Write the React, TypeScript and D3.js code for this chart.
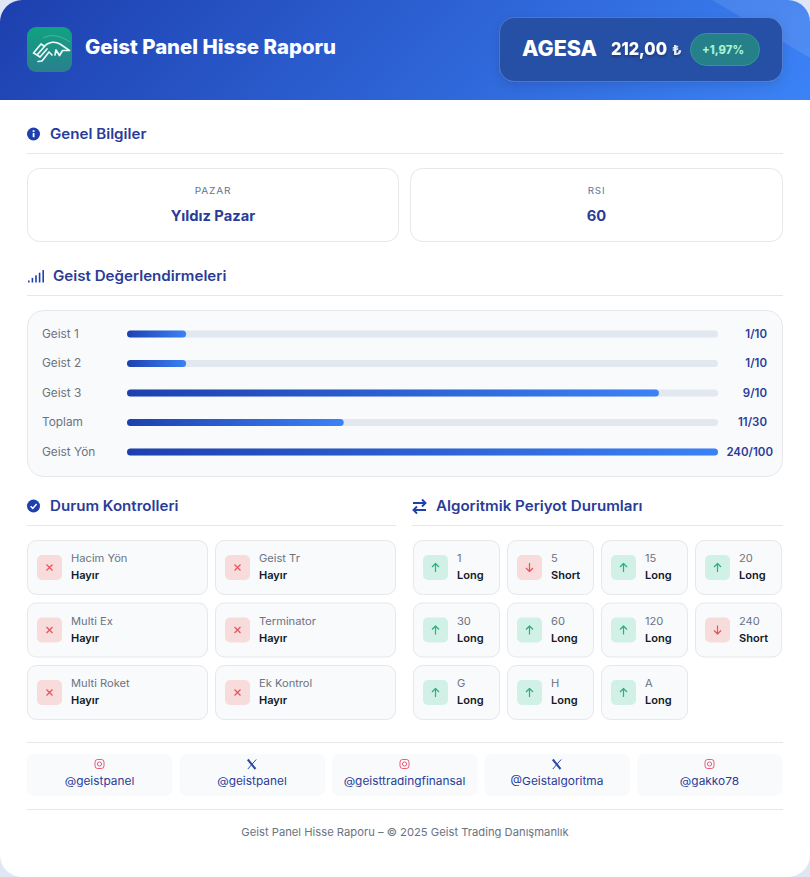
import React from 'react';
import * as d3 from 'd3';

const W = 810;
const H = 877;
const FONT = "Inter, 'Noto Sans', sans-serif";

const NAVY = '#2a3c98';
const DARK = '#1f2937';
const GRAY = '#6b7280';
const BORDER = '#e5e7eb';
const PANEL = '#f8fafc';

const title = 'Geist Panel Hisse Raporu';
const ticker = 'AGESA';
const price = '212,00';
const change = '+1,97%';

const infoLabels = ['PAZAR', 'RSI'];
const infoValues = ['Yıldız Pazar', '60'];

const scoreLabels = ['Geist 1', 'Geist 2', 'Geist 3', 'Toplam', 'Geist Yön'];
const scoreValues = [1, 1, 9, 11, 240];
const scoreMax = [10, 10, 10, 30, 100];

const statusLabels = ['Hacim Yön', 'Geist Tr', 'Multi Ex', 'Terminator', 'Multi Roket', 'Ek Kontrol'];
const statusValues = ['Hayır', 'Hayır', 'Hayır', 'Hayır', 'Hayır', 'Hayır'];

const periodLabels = ['1', '5', '15', '20', '30', '60', '120', '240', 'G', 'H', 'A'];
const periodValues = ['Long', 'Short', 'Long', 'Long', 'Long', 'Long', 'Long', 'Short', 'Long', 'Long', 'Long'];

const socialHandles = ['@geistpanel', '@geistpanel', '@geisttradingfinansal', '@Geistalgoritma', '@gakko78'];
const socialKinds = ['ig', 'x', 'ig', 'x', 'ig'];

const footer = 'Geist Panel Hisse Raporu – © 2025 Geist Trading Danışmanlık';

// Scales for the bars and the card grids
const barX = d3.scaleLinear().domain([0, 1]).range([127, 718]).clamp(true);
const rowY = d3.scalePoint<string>().domain(scoreLabels).range([334, 452]);
const statusCol = d3.scaleLinear().domain([0, 1]).range([27, 215]);
const periodCol = d3.scaleLinear().domain([0, 3]).range([413, 695]);
const gridRow = d3.scaleLinear().domain([0, 2]).range([540, 665]);
const socialX = d3.scaleLinear().domain([0, 4]).range([27, 637]);

const ctx = document.createElement('canvas').getContext('2d') as CanvasRenderingContext2D;

// The original font is wider than Inter, so text gets stretched a little
const Txt: React.FC<any> = ({ x, y, size, weight = 400, fill = DARK, anchor = 'start', stretch = 1, fit, children, ...rest }) => {
  ctx.font = `${weight} ${size}px ${FONT}`;
  const len = fit ?? ctx.measureText(String(children)).width * stretch;
  return (
    <text x={x} y={y} fontSize={size} fontWeight={weight} fill={fill} textAnchor={anchor} fontFamily={FONT}
      textLength={len} lengthAdjust="spacingAndGlyphs" {...rest}>
      {children}
    </text>
  );
};

const SectionHead: React.FC<{ x: number; x2: number; y: number; tx: number; label: string; children: React.ReactNode }> = ({ x, x2, y, tx, label, children }) => (
  <g>
    {children}
    <Txt x={tx} y={y + 5} size={14} weight={600} fill={NAVY} stretch={1.08}>{label}</Txt>
    <line x1={x} x2={x2} y1={y + 19.5} y2={y + 19.5} stroke={BORDER} />
  </g>
);

const StateCard: React.FC<{ x: number; y: number; w: number; label: string; value: string; kind: 'x' | 'up' | 'down' }> = ({ x, y, w, label, value, kind }) => {
  const good = kind === 'up';
  const col = good ? '#2bb07f' : '#e5545a';
  const bx = x + 10;
  const by = y + 15;
  const cx = bx + 12.5;
  const cy = by + 12.5;
  return (
    <g>
      <rect x={x + 0.5} y={y + 0.5} width={w - 1} height={54} rx={9} fill={PANEL} stroke={BORDER} />
      <rect x={bx} y={by} width={25} height={25} rx={5} fill={good ? '#d1f0e6' : '#f8dcdc'} />
      <g stroke={col} strokeWidth={1.2} fill="none" strokeLinejoin="round">
        {kind === 'x' && <path d={`M${cx - 3} ${cy - 3}L${cx + 3} ${cy + 3}M${cx + 3} ${cy - 3}L${cx - 3} ${cy + 3}`} />}
        {kind === 'up' && <path d={`M${cx} ${cy + 4.5}V${cy - 4}M${cx - 3.5} ${cy - 0.5}L${cx} ${cy - 4}L${cx + 3.5} ${cy - 0.5}`} />}
        {kind === 'down' && <path d={`M${cx} ${cy - 4.5}V${cy + 4}M${cx - 3.5} ${cy + 0.5}L${cx} ${cy + 4}L${cx + 3.5} ${cy + 0.5}`} />}
      </g>
      <Txt x={x + 44} y={y + 22} size={10.5} fill={GRAY} stretch={1.06}>{label}</Txt>
      <Txt x={x + 44} y={y + 39} size={10.5} weight={600} fill="#111827" stretch={1.05}>{value}</Txt>
    </g>
  );
};

export default function App() {
  return (
    <svg width={W} height={H} viewBox={`0 0 ${W} ${H}`} style={{ position: 'absolute', left: 0, top: 0, display: 'block' }}>
      <defs>
        <linearGradient id="head" gradientUnits="userSpaceOnUse" x1="170" y1="-170" x2="640" y2="270">
          <stop offset="0" stopColor="#1e40af" />
          <stop offset="1" stopColor="#3b82f6" />
        </linearGradient>
        <linearGradient id="bar" x1="0" x2="1" y1="0" y2="0">
          <stop offset="0" stopColor="#1e40af" />
          <stop offset="1" stopColor="#3b82f6" />
        </linearGradient>
        <linearGradient id="logo" x1="0" x2="0" y1="0" y2="1">
          <stop offset="0" stopColor="#10a37f" />
          <stop offset="1" stopColor="#2a7f8f" />
        </linearGradient>
        <clipPath id="page"><rect width={W} height={H} rx={22} /></clipPath>
        <filter id="soft" x="-20%" y="-30%" width="140%" height="170%">
          <feDropShadow dx="0" dy="4" stdDeviation="6" floodColor="#000" floodOpacity="0.12" />
        </filter>
        <filter id="txtShadow" x="-10%" y="-30%" width="120%" height="170%">
          <feDropShadow dx="0" dy="1.5" stdDeviation="1.5" floodColor="#000" floodOpacity="0.35" />
        </filter>
      </defs>

      <rect width={W} height={H} fill="#dfe7f5" />
      <g clipPath="url(#page)">
        <rect width={W} height={H} fill="#fff" />
        <rect width={W} height={100} fill="url(#head)" />
        <path d="M712 0H810V58Z" fill="#fff" opacity={0.1} />
      </g>

      {/* header */}
      <rect x={27} y={27} width={45} height={45} rx={9} fill="url(#logo)" />
      <path d="M43 38C50 34 60 35 70 42" fill="none" stroke="#fff" strokeOpacity={0.3} strokeWidth={0.8} />
      <g fill="none" stroke="#eef7f5" strokeWidth={1.7} strokeLinecap="round" strokeLinejoin="round">
        <path d="M37 55L33.500 53L41 44L44.500 46.500L37 55L40 57L47 49" />
        <path d="M44.500 46C49 42 55 41 60 44L69.500 50.500L62.500 50.500L59.500 55.500L56 50L55 55" />
        <path d="M38 61.500L42 61L49 52L52 55" />
      </g>
      <Txt x={85} y={54} size={20} weight={800} fill="#fff" fit={251}>{title}</Txt>

      <rect x={499.5} y={17.5} width={283} height={64} rx={15} fill="#2650a6" stroke="#fff" strokeOpacity={0.16} filter="url(#soft)" />
      <Txt x={522} y={56} size={21} weight={800} fill="#fff" fit={75}>{ticker}</Txt>
      <g filter="url(#txtShadow)">
        <Txt x={611} y={55} size={18} weight={800} fill="#fff" fit={56}>{price}</Txt>
        <Txt x={672} y={55} size={13} weight={700} fill="#e8edf7" fit={10}>₺</Txt>
      </g>
      <rect x={690.5} y={33.5} width={69} height={32} rx={16} fill="#26808a" stroke="#2f9a92" />
      <Txt x={723} y={54} size={11.500} weight={800} fill="#a7f3d0" anchor="middle" fit={42}>{change}</Txt>

      {/* genel bilgiler */}
      <SectionHead x={27} x2={783} y={134} tx={50} label="Genel Bilgiler">
        <circle cx={33.5} cy={134} r={6.5} fill="#1e40af" />
        <rect x={32.7} y={133} width={1.8} height={4.2} fill="#fff" />
        <rect x={32.7} y={130.2} width={1.8} height={1.8} fill="#fff" />
      </SectionHead>
      {infoLabels.map((label, i) => {
        const x = i === 0 ? 27 : 410;
        const w = i === 0 ? 372 : 373;
        return (
          <g key={label}>
            <rect x={x + 0.5} y={168.5} width={w - 1} height={73} rx={12} fill="#fff" stroke={BORDER} />
            <Txt x={x + w / 2} y={194} size={9.5} fill="#64748b" anchor="middle" letterSpacing={0.8} stretch={1.2}>{label}</Txt>
            <Txt x={x + w / 2} y={221} size={14} weight={700} fill={NAVY} anchor="middle" stretch={1.05}>{infoValues[i]}</Txt>
          </g>
        );
      })}

      {/* geist skorlari */}
      <SectionHead x={27} x2={783} y={276} tx={53} label="Geist Değerlendirmeleri">
        {[0, 1, 2, 3, 4].map(i => (
          <rect key={i} x={28 + i * 3.6} y={282.5 - (2 + i * 2.6)} width={1.6} height={2 + i * 2.6} fill="#1e40af" />
        ))}
      </SectionHead>
      <rect x={27.5} y={310.5} width={755} height={166} rx={16} fill={PANEL} stroke={BORDER} />
      {scoreLabels.map((label, i) => {
        const y = rowY(label) as number;
        const ty = Math.floor(y) + 4;
        return (
          <g key={label}>
            <Txt x={42} y={ty} size={11.5} fill={GRAY} stretch={1.03}>{label}</Txt>
            <rect x={barX(0)} y={y - 3.5} width={barX(1) - barX(0)} height={7} rx={3.5} fill="#e2e8f0" />
            <rect x={barX(0)} y={y - 3.5} width={barX(scoreValues[i] / scoreMax[i]) - barX(0)} height={7} rx={3.5} fill="url(#bar)" />
            <Txt x={i === 4 ? 773 : 767} y={ty} size={11.5} weight={600} fill={NAVY} anchor="end">{`${scoreValues[i]}/${scoreMax[i]}`}</Txt>
          </g>
        );
      })}

      {/* durum kontrolleri */}
      <SectionHead x={27} x2={396} y={506} tx={50} label="Durum Kontrolleri">
        <circle cx={33.5} cy={506} r={6.5} fill="#1e40af" />
        <path d="M30.6 506.2L32.8 508.4L36.6 503.9" fill="none" stroke="#fff" strokeWidth={1.5} />
      </SectionHead>
      {statusLabels.map((label, i) => (
        <StateCard key={label} x={statusCol(i % 2)} y={gridRow(Math.floor(i / 2))} w={181} label={label} value={statusValues[i]} kind="x" />
      ))}

      {/* periyotlar */}
      <SectionHead x={412} x2={783} y={506} tx={436} label="Algoritmik Periyot Durumları">
        <g stroke="#1e40af" strokeWidth={1.9} fill="none">
          <path d="M413 503H425M422 499.500L425.500 503L422 506.500" />
          <path d="M426 510H414M417 506.500L413.500 510L417 513.500" />
        </g>
      </SectionHead>
      {periodLabels.map((label, i) => (
        <StateCard key={label} x={periodCol(i % 4)} y={gridRow(Math.floor(i / 4))} w={87} label={label} value={periodValues[i]} kind={periodValues[i] === 'Long' ? 'up' : 'down'} />
      ))}

      {/* sosyal */}
      <line x1={27} x2={783} y1={742.5} y2={742.5} stroke={BORDER} />
      {socialHandles.map((h, i) => {
        const x = socialX(i);
        const cx = x + 72.5;
        return (
          <g key={i}>
            <rect x={x} y={754} width={145.5} height={42} rx={7} fill={PANEL} />
            {socialKinds[i] === 'ig' ? (
              <g fill="none" stroke="#e4405f" strokeWidth={1} opacity={0.85}>
                <rect x={cx - 4.5} y={759.5} width={9} height={9} rx={2.6} />
                <circle cx={cx} cy={764} r={2.1} />
              </g>
            ) : (
              <g fill="none" stroke="#2a4aa8">
                <path d={`M${cx - 4.2} 759.5L${cx + 3.5} 769`} strokeWidth={2.1} />
                <path d={`M${cx + 4.2} 759.5L${cx - 4.2} 769`} strokeWidth={1} />
              </g>
            )}
            <Txt x={cx} y={785} size={11} fill={NAVY} anchor="middle" stretch={1.08}>{h}</Txt>
          </g>
        );
      })}
      <line x1={27} x2={783} y1={809.5} y2={809.5} stroke={BORDER} />
      <Txt x={405} y={836} size={11} fill={GRAY} anchor="middle" stretch={1.02}>{footer}</Txt>
    </svg>
  );
}
